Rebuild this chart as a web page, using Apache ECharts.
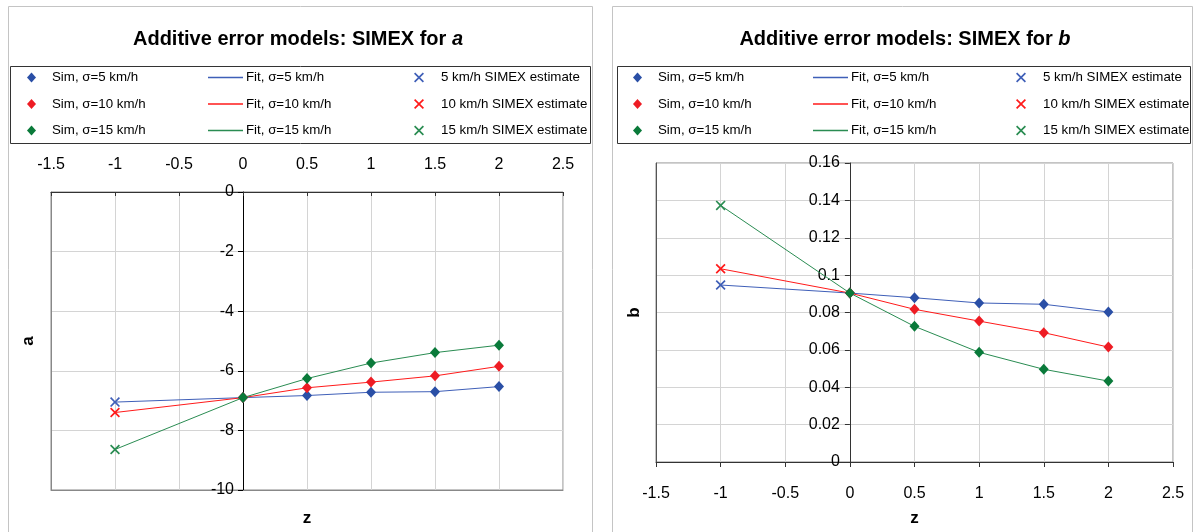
<!DOCTYPE html>
<html>
<head>
<meta charset="utf-8">
<script src="https://cdn.jsdelivr.net/npm/echarts@6/dist/echarts.min.js"></script>
<style>html,body{margin:0;padding:0;background:#fff;}#c{width:1194px;height:532px;}</style>
</head>
<body>
<div id="c"></div>
<script>
// ---- data ----
const xTicks = [-1.5, -1, -0.5, 0, 0.5, 1, 1.5, 2, 2.5];
const zSim = [0, 0.5, 1, 1.5, 2];
const zFit = [-1, 0, 0.5, 1, 1.5, 2];
const zSimex = -1;
const sigmas = ['5', '10', '15'];

const aSim5 = [-6.90, -6.83, -6.72, -6.70, -6.53];
const aSim10 = [-6.90, -6.57, -6.38, -6.17, -5.85];
const aSim15 = [-6.90, -6.26, -5.74, -5.39, -5.14];
const aFit5 = [-7.05, -6.90, -6.83, -6.72, -6.70, -6.53];
const aFit10 = [-7.40, -6.90, -6.57, -6.38, -6.17, -5.85];
const aFit15 = [-8.64, -6.90, -6.26, -5.74, -5.39, -5.14];
const aSimex = [-7.05, -7.40, -8.64];

const bSim5 = [0.0904, 0.0879, 0.0851, 0.0844, 0.0803];
const bSim10 = [0.0904, 0.0817, 0.0754, 0.0692, 0.0615];
const bSim15 = [0.0904, 0.0726, 0.0587, 0.0496, 0.0433];
const bFit5 = [0.0947, 0.0904, 0.0879, 0.0851, 0.0844, 0.0803];
const bFit10 = [0.1034, 0.0904, 0.0817, 0.0754, 0.0692, 0.0615];
const bFit15 = [0.1373, 0.0904, 0.0726, 0.0587, 0.0496, 0.0433];
const bSimex = [0.0947, 0.1034, 0.1373];

// ---- styles ----
const markColors = ['#2a4fa6', '#ee1c24', '#0a7a3a'];
const lineColors = ['#3f5fb8', '#ff1a1a', '#2a8c52'];
const FONT = 'Liberation Sans, Arial, sans-serif';
const XSYM = 'path://M0,1.2L1.2,0L5,3.8L8.8,0L10,1.2L6.2,5L10,8.8L8.8,10L5,6.2L1.2,10L0,8.8L3.8,5Z';

const simNames = sigmas.map(s => 'Sim, σ=' + s + ' km/h');
const fitNames = sigmas.map(s => 'Fit, σ=' + s + ' km/h');
const estNames = sigmas.map(s => s + ' km/h SIMEX estimate');

function pairs(xs, ys) { return xs.map((x, i) => [x, ys[i]]); }

function buildSeries(gi, sims, fits, est) {
  const out = [];
  for (let k = 0; k < 3; k++) {
    out.push({
      type: 'line', name: fitNames[k], xAxisIndex: gi * 2, yAxisIndex: gi * 2,
      data: pairs(zFit, fits[k]), symbol: 'none', z: 2,
      lineStyle: { color: lineColors[k], width: 1 }, itemStyle: { color: lineColors[k] }
    });
  }
  for (let k = 0; k < 3; k++) {
    out.push({
      type: 'scatter', name: simNames[k], xAxisIndex: gi * 2, yAxisIndex: gi * 2,
      data: pairs(zSim, sims[k]), symbol: 'diamond', symbolSize: [10, 11], z: 4,
      itemStyle: { color: markColors[k], opacity: 1 }
    });
    out.push({
      type: 'scatter', name: estNames[k], xAxisIndex: gi * 2, yAxisIndex: gi * 2,
      data: [[zSimex, est[k]]], symbol: XSYM, symbolSize: 10, z: 4,
      itemStyle: { color: lineColors[k], opacity: 1 }
    });
  }
  return out;
}

const tickLabel = { color: '#000', fontSize: 16, fontFamily: FONT };
const gridLine = { show: true, lineStyle: { color: '#d4d4d4', width: 1 } };
const nameStyle = { fontSize: 17, fontWeight: 'bold', fontFamily: FONT, color: '#000' };

function legendCol(left, names, icon, w, h, pad) {
  return {
    orient: 'vertical', left: left, top: 70, itemGap: 11.5, itemWidth: w, itemHeight: h,
    selectedMode: false, icon: icon, padding: 0,
    textStyle: { fontSize: 13.3, fontFamily: FONT, color: '#000', lineHeight: 15, padding: [0, 0, 0, pad] },
    data: names
  };
}

// grid geometry
const G1 = { left: 51, top: 192, width: 512, height: 300 };
const G2 = { left: 656, top: 163, width: 517, height: 300 };
const zeroOff1 = G1.width * 1.5 / 4;
const zeroOff2 = G2.width * 1.5 / 4;

const option = {
  animation: false,
  backgroundColor: '#fff',
  grid: [
    Object.assign({ show: true, borderColor: '#888', borderWidth: 1 }, G1),
    Object.assign({ show: true, borderColor: '#888', borderWidth: 1 }, G2)
  ],
  xAxis: [
    { type: 'value', gridIndex: 0, position: 'top', min: -1.5, max: 2.5, interval: 0.5,
      axisLine: { onZero: false, lineStyle: { color: '#333' } },
      axisTick: { show: true, inside: true, length: 4, lineStyle: { color: '#333' } },
      axisLabel: Object.assign({ margin: 19 }, tickLabel), splitLine: gridLine },
    { type: 'value', gridIndex: 0, position: 'bottom', min: -1.5, max: 2.5, interval: 0.5,
      name: 'z', nameLocation: 'middle', nameGap: 20, nameTextStyle: nameStyle,
      axisLine: { onZero: false, lineStyle: { color: '#888' } }, axisTick: { show: false },
      axisLabel: { show: false }, splitLine: { show: false } },
    { type: 'value', gridIndex: 1, position: 'bottom', min: -1.5, max: 2.5, interval: 0.5,
      axisLine: { onZero: false, lineStyle: { color: '#333' } },
      axisTick: { show: true, length: 5, lineStyle: { color: '#333' } },
      axisLabel: Object.assign({ margin: 24 }, tickLabel), splitLine: gridLine },
    { type: 'value', gridIndex: 1, position: 'bottom', min: -1.5, max: 2.5, interval: 0.5,
      name: 'z', nameLocation: 'middle', nameGap: 48, nameTextStyle: nameStyle,
      axisLine: { show: false }, axisTick: { show: false },
      axisLabel: { show: false }, splitLine: { show: false } }
  ],
  yAxis: [
    { type: 'value', gridIndex: 0, position: 'left', offset: -zeroOff1, min: -10, max: 0, interval: 2,
      axisLine: { show: true, onZero: false, lineStyle: { color: '#000' } },
      axisTick: { show: true, length: 5, lineStyle: { color: '#000' } },
      axisLabel: Object.assign({ margin: 9 }, tickLabel), splitLine: gridLine },
    { type: 'value', gridIndex: 0, position: 'left', min: -10, max: 0, interval: 2,
      name: 'a', nameLocation: 'middle', nameGap: 14, nameTextStyle: nameStyle,
      axisLine: { show: true, onZero: false, lineStyle: { color: '#888' } }, axisTick: { show: false },
      axisLabel: { show: false }, splitLine: { show: false } },
    { type: 'value', gridIndex: 1, position: 'left', offset: -zeroOff2, min: 0, max: 0.16, interval: 0.02,
      axisLine: { show: true, onZero: false, lineStyle: { color: '#333' } },
      axisTick: { show: true, length: 5, lineStyle: { color: '#333' } },
      axisLabel: Object.assign({ margin: 10, formatter: v => String(+v.toFixed(2)) }, tickLabel),
      splitLine: gridLine },
    { type: 'value', gridIndex: 1, position: 'left', min: 0, max: 0.16, interval: 0.02,
      name: 'b', nameLocation: 'middle', nameGap: 13, nameTextStyle: nameStyle,
      axisLine: { show: true, onZero: false, lineStyle: { color: '#555' } }, axisTick: { show: false },
      axisLabel: { show: false }, splitLine: { show: false } }
  ],
  legend: [
    legendCol(27, simNames, 'diamond', 9, 10, 11),
    legendCol(208, fitNames, 'rect', 35, 1.5, -2),
    legendCol(414, estNames, XSYM, 10, 10, 12),
    legendCol(633, simNames, 'diamond', 9, 10, 11),
    legendCol(813, fitNames, 'rect', 35, 1.5, -2),
    legendCol(1016, estNames, XSYM, 10, 10, 12)
  ],
  graphic: [
    { type: 'rect', shape: { x: 8.5, y: 6.5, width: 584, height: 540 }, style: { fill: 'none', stroke: '#c4c4c4', lineWidth: 1 }, silent: true },
    { type: 'rect', shape: { x: 612.5, y: 6.5, width: 580, height: 540 }, style: { fill: 'none', stroke: '#c4c4c4', lineWidth: 1 }, silent: true },
    { type: 'rect', shape: { x: 10.5, y: 66.5, width: 580, height: 77 }, style: { fill: 'none', stroke: '#333', lineWidth: 1 }, silent: true },
    { type: 'rect', shape: { x: 617.5, y: 66.5, width: 573, height: 77 }, style: { fill: 'none', stroke: '#333', lineWidth: 1 }, silent: true },
    { type: 'text', x: 298, y: 39, silent: true,
      style: { text: '{b|Additive error models: SIMEX for }{i|a}', align: 'center', verticalAlign: 'middle',
        rich: { b: { fontSize: 20, fontWeight: 'bold', fontFamily: FONT, fill: '#000' },
                i: { fontSize: 20, fontWeight: 'bold', fontStyle: 'italic', fontFamily: FONT, fill: '#000' } } } },
    { type: 'text', x: 905, y: 39, silent: true,
      style: { text: '{b|Additive error models: SIMEX for }{i|b}', align: 'center', verticalAlign: 'middle',
        rich: { b: { fontSize: 20, fontWeight: 'bold', fontFamily: FONT, fill: '#000' },
                i: { fontSize: 20, fontWeight: 'bold', fontStyle: 'italic', fontFamily: FONT, fill: '#000' } } } }
  ],
  series: [].concat(
    buildSeries(0, [aSim5, aSim10, aSim15], [aFit5, aFit10, aFit15], aSimex),
    buildSeries(1, [bSim5, bSim10, bSim15], [bFit5, bFit10, bFit15], bSimex)
  )
};

const chart = echarts.init(document.getElementById('c'), null, { renderer: 'canvas' });
chart.setOption(option);
</script>
</body>
</html>
